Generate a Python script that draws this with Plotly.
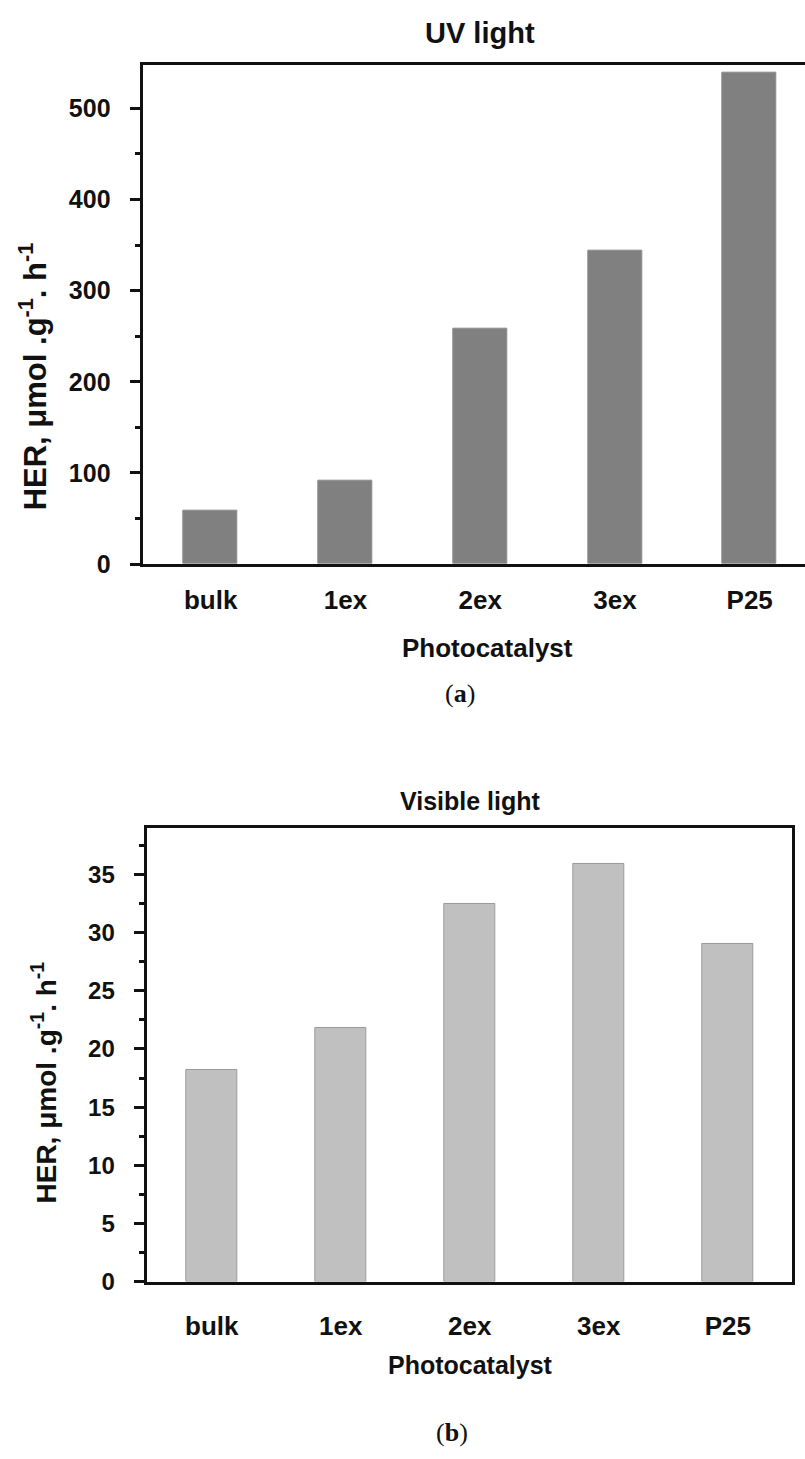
import plotly.graph_objects as go

categories = ["bulk", "1ex", "2ex", "3ex", "P25"]
uv_values = [59, 92, 258, 344, 539]
vis_values = [18.2, 21.8, 32.5, 35.9, 29.0]

W, H = 805, 1459
FONT = "Liberation Sans, Arial, sans-serif"
SERIF = "Liberation Serif, DejaVu Serif, serif"

def px(x):
    return x / W

def py(y):
    return 1 - y / H

fig = go.Figure()

fig.add_trace(go.Bar(x=list(range(len(categories))), y=uv_values, width=0.4,
                     marker=dict(color="#808080", line=dict(color="#8c8c8c", width=1)),
                     xaxis="x", yaxis="y", showlegend=False))
fig.add_trace(go.Bar(x=list(range(len(categories))), y=vis_values, width=0.4,
                     marker=dict(color="#c0c0c0", line=dict(color="#9a9a9a", width=1)),
                     xaxis="x2", yaxis="y2", showlegend=False))

axis_line = dict(showline=True, linecolor="#111111", linewidth=2.5, showgrid=False, zeroline=False)

x_left_top = 143.3
spacing_top = 134.75
fig.update_layout(
    width=W, height=H, margin=dict(l=0, r=0, t=0, b=0),
    paper_bgcolor="white", plot_bgcolor="white",
    font=dict(family=FONT, color="#111111"),
    bargap=0,
    xaxis=dict(domain=[px(x_left_top), 1.0],
               range=[-0.5, -0.5 + (W - x_left_top) / spacing_top],
               tickmode="array", tickvals=list(range(len(categories))), ticktext=categories,
               ticks="", ticklabelstandoff=11,
               tickfont=dict(size=26, family=FONT, weight="bold", color="#111111"),
               mirror=True, anchor="y", **axis_line),
    yaxis=dict(domain=[py(569.5), py(65.3)], range=[0, 548],
               dtick=100, tick0=0, ticks="outside", ticklen=11, tickwidth=2.5, tickcolor="#111111",
               minor=dict(dtick=50, ticks="outside", ticklen=6, tickwidth=2.5, tickcolor="#111111"),
               ticklabelstandoff=14,
               tickfont=dict(size=25, family=FONT, weight="bold", color="#111111"),
               mirror=False, anchor="x", **axis_line),
    xaxis2=dict(domain=[px(147.3), px(792.3)], range=[-0.5, 4.5],
                tickmode="array", tickvals=list(range(len(categories))), ticktext=categories,
                ticks="", ticklabelstandoff=19,
                tickfont=dict(size=26, family=FONT, weight="bold", color="#111111"),
                mirror=True, anchor="y2", **axis_line),
    yaxis2=dict(domain=[py(1294), py(836)], range=[0, 39],
                dtick=5, tick0=0, ticks="outside", ticklen=11, tickwidth=2.5, tickcolor="#111111",
                minor=dict(dtick=2.5, ticks="outside", ticklen=6, tickwidth=2.5, tickcolor="#111111"),
                ticklabelstandoff=14,
                tickfont=dict(size=24, family=FONT, weight="bold", color="#111111"),
                mirror=True, anchor="x2", **axis_line),
)

def ann(text, x, y, size, family=FONT, bold=True, angle=0):
    fig.add_annotation(text=text, x=px(x), y=py(y), xref="paper", yref="paper",
                       xanchor="center", yanchor="middle", showarrow=False, textangle=angle,
                       font=dict(size=size, family=family, color="#111111",
                                 weight="bold" if bold else "normal"))

ann("UV light", 480, 33, 29)
ann("Photocatalyst", 487, 654, 26)
ann("HER, μmol .g<sup>-1</sup>. h<sup>-1</sup>", 33, 380, 31, angle=-90)
ann("(<b>a</b>)", 460, 700, 26, family=SERIF, bold=False)

ann("Visible light", 470, 809, 25)
ann("Photocatalyst", 470, 1378, 25)
ann("HER, μmol .g<sup>-1</sup>. h<sup>-1</sup>", 44, 1093, 28, angle=-90)
ann("(<b>b</b>)", 452, 1446, 26, family=SERIF, bold=False)

fig.write_html("out.html")
